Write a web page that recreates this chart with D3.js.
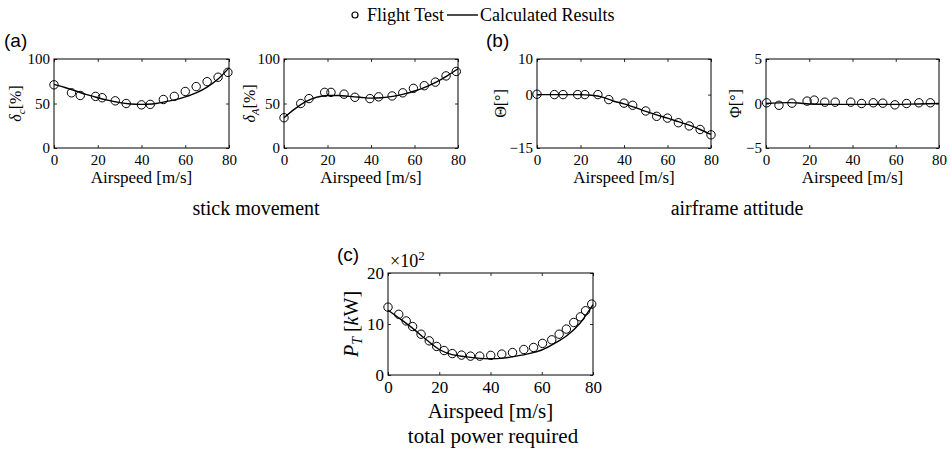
<!DOCTYPE html>
<html>
<head>
<meta charset="utf-8">
<script src="https://cdn.jsdelivr.net/npm/d3@7"></script>
<style>
  body { margin: 0; background: #fff; }
  svg { display: block; }
  text { font-family: "Liberation Serif", "Times New Roman", serif; fill: #000; }
  .lbl { font-family: "Liberation Sans", Arial, sans-serif; }
</style>
</head>
<body>
<div id="chart"></div>
<script>
// ---- data ----
const xTicks = [0, 20, 40, 60, 80];

// (a) collective stick, delta_c [%]
const collTestV = [0, 8, 12, 19, 22, 28, 33, 40, 44, 50, 55, 60, 65, 70, 75, 79.5];
const collTestY = [71, 62, 59, 58, 56.5, 53, 50, 48.5, 49, 54.5, 58, 63.5, 69, 74.5, 79.5, 85];
const collCalcV = [0, 5, 10, 15, 20, 25, 30, 35, 40, 45, 50, 55, 60, 65, 70, 75, 80];
const collCalcY = [71.5, 68, 64, 60, 56.5, 53.5, 51, 49.5, 49, 49.5, 51.5, 54, 57.5, 62, 68.5, 77.5, 90];

// (a) lateral stick, delta_A [%]
const latTestV = [0, 7.7, 11.5, 18.7, 21.6, 27.6, 32.6, 39.5, 43.5, 49.7, 54.6, 59.5, 64.5, 69.6, 74.5, 79.2];
const latTestY = [34, 50, 55.5, 62.5, 62.5, 60.5, 57, 55.5, 57.5, 58.5, 62, 67, 70, 74, 81, 86];
const latCalcV = [0, 5, 10, 15, 20, 25, 30, 35, 40, 45, 50, 55, 60, 65, 70, 75, 80];
const latCalcY = [34, 44, 52, 57, 59, 59, 58, 57, 56, 56.5, 58, 60.5, 64, 68.5, 74, 81, 89];

// (b) pitch attitude, Theta [deg]
const pitchTestV = [0, 8, 12, 18.7, 22, 28, 33, 40, 44, 50, 55, 60, 65, 70, 75, 80];
const pitchTestY = [0.1, 0, 0, 0, 0, 0, -1.4, -2.4, -3, -4.6, -6.1, -6.6, -7.9, -8.8, -9.8, -11.3];
const pitchCalcV = [0, 10, 20, 25, 30, 35, 40, 45, 50, 55, 60, 65, 70, 75, 80];
const pitchCalcY = [0, 0, 0, -0.2, -0.7, -1.8, -2.6, -3.6, -4.7, -5.7, -6.6, -7.6, -8.6, -9.8, -11.2];

// (b) roll attitude, Phi [deg]
const rollTestV = [0.3, 6, 12, 19, 22.3, 27.2, 32, 39.2, 44.2, 49.6, 54, 59.6, 65, 70.7, 76];
const rollTestY = [0.08, -0.2, 0.04, 0.27, 0.38, 0.15, 0.15, 0.15, 0, 0.08, 0.04, -0.15, 0, 0.08, 0.08];
const rollCalcV = [0, 10, 15, 20, 30, 40, 50, 60, 70, 80];
const rollCalcY = [0, 0.1, 0.05, -0.05, -0.1, -0.1, -0.1, -0.1, -0.05, 0];

// (c) total power, P_T [kW x 10^2]
const powTestV = [0, 4.2, 7.1, 9.6, 12.9, 16.1, 19, 21.9, 25.1, 28.7, 32.2, 35.8, 40.1, 44.4, 48.6, 53, 56.8, 60.3, 63.9, 66.8, 69.6, 72.5, 75.1, 77.1, 79.5];
const powTestY = [13.3, 11.9, 10.6, 9.5, 8.0, 6.7, 5.6, 4.8, 4.2, 3.9, 3.7, 3.7, 3.85, 4.1, 4.4, 5.0, 5.4, 6.2, 6.9, 8.0, 9.0, 10.3, 11.4, 12.6, 13.9];
const powCalcV = [0, 5, 10, 15, 20, 25, 30, 35, 40, 45, 50, 55, 60, 65, 70, 75, 80];
const powCalcY = [12.7, 10.9, 9.0, 6.9, 5.0, 4.0, 3.6, 3.3, 3.2, 3.3, 3.7, 4.2, 4.9, 6.2, 7.8, 10.2, 13.8];

const W = 950, H = 452;
const SERIF = '"Liberation Serif", "Times New Roman", serif';
const svg = d3.select('#chart').append('svg').attr('width', W).attr('height', H);

function panel(opt) {
  var x = d3.scaleLinear().domain([0, 80]).range([opt.left, opt.right]);
  var y = d3.scaleLinear().domain(opt.yDomain).range([opt.bottom, opt.top]);
  var g = svg.append('g');

  // inward ticks on all four sides, labels only bottom/left
  g.append('g')
    .attr('transform', 'translate(0,' + opt.bottom + ')')
    .call(d3.axisBottom(x).tickValues(xTicks).tickSize(-3).tickPadding(opt.xPad))
    .attr('font-family', SERIF).attr('font-size', opt.tickFont)
    .call(a => a.select('.domain').remove());
  g.append('g')
    .attr('transform', 'translate(0,' + opt.top + ')')
    .call(d3.axisTop(x).tickValues(xTicks).tickSize(-3).tickFormat(''))
    .call(a => a.select('.domain').remove());
  g.append('g')
    .attr('transform', 'translate(' + opt.left + ',0)')
    .call(d3.axisLeft(y).tickValues(opt.yTicks).tickSize(-3).tickPadding(4))
    .attr('font-family', SERIF).attr('font-size', opt.tickFont)
    .call(a => a.select('.domain').remove());
  g.append('g')
    .attr('transform', 'translate(' + opt.right + ',0)')
    .call(d3.axisRight(y).tickValues(opt.yTicks).tickSize(-3).tickFormat(''))
    .call(a => a.select('.domain').remove());
  g.selectAll('.tick line').attr('stroke', '#000').attr('stroke-width', 0.8);

  g.append('rect')
    .attr('x', opt.left).attr('y', opt.top)
    .attr('width', opt.right - opt.left).attr('height', opt.bottom - opt.top)
    .attr('fill', 'none').attr('stroke', '#000').attr('stroke-width', 1);

  var calc = opt.calcV.map((v, i) => [v, opt.calcY[i]]);
  g.append('path')
    .datum(calc)
    .attr('fill', 'none')
    .attr('stroke', '#000')
    .attr('stroke-width', 1.4)
    .attr('d', d3.line().curve(d3.curveMonotoneX).x(d => x(d[0])).y(d => y(d[1])));

  var test = opt.testV.map((v, i) => [v, opt.testY[i]]);
  g.append('g')
    .selectAll('circle')
    .data(test)
    .enter()
    .append('circle')
    .attr('cx', d => x(d[0]))
    .attr('cy', d => y(d[1]))
    .attr('r', 4.2)
    .attr('fill', 'none')
    .attr('stroke', '#000')
    .attr('stroke-width', 1);

  g.append('text')
    .attr('x', (opt.left + opt.right) / 2)
    .attr('y', opt.xLabelY)
    .attr('text-anchor', 'middle')
    .attr('font-family', SERIF)
    .attr('font-size', opt.labelFont)
    .text('Airspeed [m/s]');

  var yl = g.append('text')
    .attr('transform', 'translate(' + opt.yLabelX + ',' + (opt.top + opt.bottom) / 2 + ') rotate(-90)')
    .attr('text-anchor', 'middle')
    .attr('font-family', SERIF)
    .attr('font-size', opt.yLabelFont);
  opt.yLabel(yl);
  return g;
}

var small = { top: 59, bottom: 148, xPad: 6, tickFont: 15, labelFont: 17, xLabelY: 183, yLabelFont: 16 };

panel(Object.assign({}, small, {
  left: 54, right: 229, yDomain: [0, 100], yTicks: [0, 50, 100],
  testV: collTestV, testY: collTestY, calcV: collCalcV, calcY: collCalcY, yLabelX: 21,
  yLabel: t => {
    t.append('tspan').attr('font-style', 'italic').text('δ');
    t.append('tspan').attr('font-style', 'italic').attr('font-size', 11).attr('dy', 4).text('c');
    t.append('tspan').attr('dy', -4).text('[%]');
  }
}));
panel(Object.assign({}, small, {
  left: 284, right: 458, yDomain: [0, 100], yTicks: [0, 50, 100],
  testV: latTestV, testY: latTestY, calcV: latCalcV, calcY: latCalcY, yLabelX: 255,
  yLabel: t => {
    t.append('tspan').attr('font-style', 'italic').text('δ');
    t.append('tspan').attr('font-style', 'italic').attr('font-size', 11).attr('dy', 4).text('A');
    t.append('tspan').attr('dy', -4).text('[%]');
  }
}));
panel(Object.assign({}, small, {
  left: 537, right: 711, yDomain: [-15, 10], yTicks: [-15, 0, 10],
  testV: pitchTestV, testY: pitchTestY, calcV: pitchCalcV, calcY: pitchCalcY, yLabelX: 506,
  yLabel: t => t.text('Θ[°]')
}));
panel(Object.assign({}, small, {
  left: 766, right: 939, yDomain: [-5, 5], yTicks: [-5, 0, 5],
  testV: rollTestV, testY: rollTestY, calcV: rollCalcV, calcY: rollCalcY, yLabelX: 741,
  yLabel: t => t.text('Φ[°]')
}));
panel({
  left: 388, right: 593, top: 273, bottom: 375, xPad: 6, tickFont: 17, labelFont: 21,
  xLabelY: 418, yLabelFont: 20, yDomain: [0, 20], yTicks: [0, 10, 20],
  testV: powTestV, testY: powTestY, calcV: powCalcV, calcY: powCalcY, yLabelX: 358,
  yLabel: t => {
    t.append('tspan').attr('font-style', 'italic').text('P');
    t.append('tspan').attr('font-style', 'italic').attr('font-size', 14).attr('dy', 4).text('T');
    t.append('tspan').attr('dy', -4).text(' [');
    t.append('tspan').attr('font-style', 'italic').text('k');
    t.append('tspan').text('W]');
  }
});

// exponent above panel (c)
var ex = svg.append('text').attr('x', 390).attr('y', 267).attr('font-size', 18);
ex.append('tspan').text('×10');
ex.append('tspan').attr('font-size', 13).attr('dy', -7).text('2');

// captions
svg.append('text').attr('x', 256).attr('y', 215).attr('text-anchor', 'middle').attr('font-size', 20).text('stick movement');
svg.append('text').attr('x', 737).attr('y', 215).attr('text-anchor', 'middle').attr('font-size', 20).text('airframe attitude');
svg.append('text').attr('x', 493).attr('y', 443).attr('text-anchor', 'middle').attr('font-size', 21).text('total power required');

// panel letters
svg.append('text').attr('class', 'lbl').attr('x', 4).attr('y', 47).attr('font-size', 19).text('(a)');
svg.append('text').attr('class', 'lbl').attr('x', 486).attr('y', 47).attr('font-size', 19).text('(b)');
svg.append('text').attr('class', 'lbl').attr('x', 337).attr('y', 261).attr('font-size', 19).text('(c)');

// legend
var leg = svg.append('g');
leg.append('circle').attr('cx', 355).attr('cy', 15).attr('r', 3).attr('fill', 'none').attr('stroke', '#000').attr('stroke-width', 1.2);
leg.append('text').attr('x', 367).attr('y', 21).attr('font-size', 18).text('Flight Test');
leg.append('line').attr('x1', 447).attr('x2', 478).attr('y1', 15).attr('y2', 15).attr('stroke', '#000').attr('stroke-width', 1.4);
leg.append('text').attr('x', 480).attr('y', 21).attr('font-size', 18).text('Calculated Results');
</script>
</body>
</html>
